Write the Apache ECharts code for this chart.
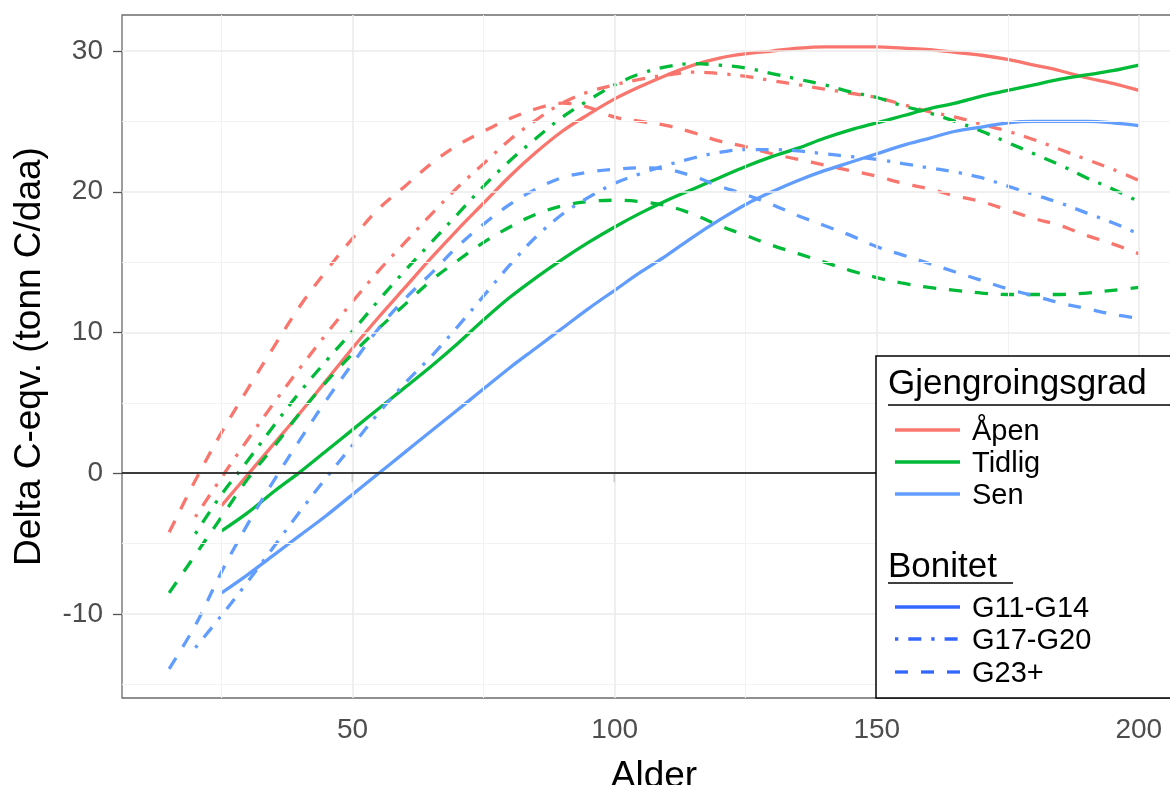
<!DOCTYPE html>
<html>
<head>
<meta charset="utf-8">
<script src="https://cdn.jsdelivr.net/npm/echarts@6/dist/echarts.min.js"></script>
<style>
  html, body { margin: 0; padding: 0; background: #fff; }
  #chart { width: 1170px; height: 785px; }
</style>
</head>
<body>
<div id="chart"></div>
<script>
// ---- data ----
const ages = [15,20,25,30,35,40,45,50,55,60,65,70,75,80,85,90,95,100,105,110,115,120,125,130,135,140,145,150,155,160,165,170,175,180,185,190,195,200];

const apenG11 = [null,null,-2.3,-0.1,2.1,4.3,6.6,8.9,11.1,13.2,15.3,17.3,19.2,21.1,22.8,24.3,25.5,26.6,27.5,28.3,29.0,29.5,29.8,30.0,30.2,30.3,30.3,30.3,30.2,30.1,29.9,29.7,29.4,29.0,28.6,28.1,27.7,27.2];
const apenG17 = [null,-3.1,-0.3,2.4,5.0,7.5,9.9,12.2,14.4,16.4,18.4,20.3,22.0,23.7,25.1,26.3,27.1,27.6,28.0,28.3,28.5,28.4,28.2,27.9,27.6,27.3,27.0,26.7,26.2,25.7,25.3,24.8,24.3,23.7,23.0,22.3,21.6,20.8];
const apenG23 = [-4.2,-0.5,2.9,6.0,9.0,11.9,14.4,16.7,18.8,20.4,22.0,23.3,24.3,25.2,25.9,26.3,26.0,25.3,25.0,24.7,24.2,23.6,23.2,22.7,22.3,21.9,21.5,21.1,20.6,20.2,19.7,19.3,18.7,18.1,17.6,16.9,16.3,15.6];

const tidligG11 = [null,null,-4.1,-2.8,-1.3,0.1,1.6,3.1,4.6,6.1,7.6,9.2,10.9,12.5,13.9,15.2,16.4,17.5,18.5,19.4,20.2,21.0,21.8,22.5,23.1,23.8,24.4,24.9,25.4,25.9,26.3,26.8,27.2,27.6,28.0,28.3,28.6,29.0];
const tidligG17 = [null,-4.3,-1.5,0.9,3.4,5.8,8.0,10.1,12.3,14.4,16.4,18.4,20.4,22.2,23.8,25.3,26.5,27.6,28.4,28.9,29.1,29.0,28.8,28.4,28.0,27.6,27.1,26.7,26.1,25.6,25.0,24.3,23.5,22.7,21.9,21.0,20.2,19.3];
const tidligG23 = [-8.5,-5.8,-3.1,-0.4,1.9,4.3,6.5,8.5,10.3,12.0,13.7,15.1,16.4,17.5,18.4,19.0,19.3,19.4,19.3,19.0,18.4,17.6,16.9,16.2,15.6,15.0,14.4,13.9,13.5,13.2,13.0,12.8,12.7,12.7,12.7,12.8,13.0,13.2];

const senG11 = [null,null,-8.5,-7.2,-5.8,-4.4,-3.0,-1.5,0.0,1.5,3.0,4.5,6.0,7.5,8.9,10.3,11.7,13.0,14.3,15.5,16.8,18.0,19.1,20.0,20.8,21.5,22.1,22.7,23.3,23.8,24.3,24.6,24.9,25.0,25.0,25.0,24.9,24.7];
const senG17 = [null,-12.4,-10.1,-7.7,-5.2,-2.7,-0.3,2.0,4.3,6.4,8.3,10.4,12.6,14.8,16.8,18.4,19.6,20.6,21.3,21.9,22.4,22.8,23.0,23.0,22.9,22.7,22.5,22.3,22.0,21.7,21.4,21.0,20.4,19.8,19.2,18.5,17.8,17.0];
const senG23 = [-13.9,-10.8,-7.0,-3.6,-0.5,2.4,5.2,7.8,10.3,12.4,14.2,16.1,17.7,19.1,20.2,21.0,21.4,21.6,21.7,21.6,21.1,20.4,19.8,19.1,18.3,17.6,16.9,16.1,15.5,14.9,14.3,13.7,13.1,12.6,12.1,11.7,11.3,11.0];

const xTicks = [50, 100, 150, 200];
const yTicks = [-10, 0, 10, 20, 30];
const xMinorGrid = [25, 75, 125, 175];
const yMinorGrid = [-15, -5, 5, 15, 25];

const groups = ['Åpen', 'Tidlig', 'Sen'];
const bonitet = ['G11-G14', 'G17-G20', 'G23+'];

// ---- styles ----
const FONT = 'Liberation Sans, Arial, Helvetica, sans-serif';
const colors = { 'Åpen': '#F8766D', 'Tidlig': '#00BA38', 'Sen': '#619CFF' };
const LW = 3.3;
const dashes = { 'G11-G14': 'solid', 'G17-G20': [3.3, 10, 13, 10], 'G23+': [13, 13] };

const table = {
  'Åpen':   { 'G11-G14': apenG11,   'G17-G20': apenG17,   'G23+': apenG23 },
  'Tidlig': { 'G11-G14': tidligG11, 'G17-G20': tidligG17, 'G23+': tidligG23 },
  'Sen':    { 'G11-G14': senG11,    'G17-G20': senG17,    'G23+': senG23 }
};

function pairs(vals) {
  const out = [];
  ages.forEach((a, i) => { if (vals[i] !== null) out.push([a, vals[i]]); });
  return out;
}

const series = [];
const gridLineStyleMajor = { color: '#ebebeb', width: 1.6, type: 'solid' };
const gridLineStyleMinor = { color: '#f2f2f2', width: 1.1, type: 'solid' };
series.push({
  type: 'line', name: '_grid', data: [], silent: true, z: 1,
  markLine: {
    silent: true, symbol: ['none', 'none'], animation: false,
    label: { show: false },
    data: [
      ...xMinorGrid.map(v => ({ xAxis: v, lineStyle: gridLineStyleMinor })),
      ...yMinorGrid.map(v => ({ yAxis: v, lineStyle: gridLineStyleMinor })),
      ...xTicks.map(v => ({ xAxis: v, lineStyle: gridLineStyleMajor })),
      ...yTicks.map(v => ({ yAxis: v, lineStyle: gridLineStyleMajor }))
    ]
  }
});
series.push({
  type: 'line', name: '_zero', data: [], silent: true, z: 2,
  markLine: {
    silent: true, symbol: ['none', 'none'], animation: false,
    label: { show: false },
    data: [{ yAxis: 0, lineStyle: { color: '#000', width: 1.5, type: 'solid' } }]
  }
});

groups.forEach(g => {
  bonitet.forEach(b => {
    series.push({
      type: 'line',
      name: g + ' ' + b,
      data: pairs(table[g][b]),
      smooth: 0.35,
      showSymbol: false,
      symbol: 'none',
      z: 3,
      lineStyle: { color: colors[g], width: LW, type: dashes[b], cap: 'butt' }
    });
  });
});

// ---- legend (drawn as graphics) ----
const LX = 876, LY = 356;
const graphic = [
  { type: 'rect', z: 100, shape: { x: LX, y: LY, width: 330, height: 342 },
    style: { fill: '#fff', stroke: '#000', lineWidth: 1.5 } },
  { type: 'text', z: 101, style: { text: 'Gjengroingsgrad', x: 888, y: 384, fontSize: 35, fontFamily: FONT, fill: '#000',
      textAlign: 'left', textVerticalAlign: 'middle', align: 'left', verticalAlign: 'middle' } },
  { type: 'line', z: 101, shape: { x1: 888, y1: 405, x2: 1170, y2: 405 }, style: { stroke: '#000', lineWidth: 1.5 } },
  { type: 'text', z: 101, style: { text: 'Bonitet ', x: 888, y: 567, fontSize: 35, fontFamily: FONT, fill: '#000',
      textAlign: 'left', textVerticalAlign: 'middle', align: 'left', verticalAlign: 'middle' } },
  { type: 'line', z: 101, shape: { x1: 888, y1: 583, x2: 1013, y2: 583 }, style: { stroke: '#000', lineWidth: 1.5 } }
];
const colorRows = [430, 462, 494];
groups.forEach((g, i) => {
  graphic.push({ type: 'line', z: 101, shape: { x1: 895, y1: colorRows[i], x2: 960, y2: colorRows[i] },
    style: { stroke: colors[g], lineWidth: LW } });
  graphic.push({ type: 'text', z: 101, style: { text: g, x: 972, y: colorRows[i] + 2, fontSize: 29, fontFamily: FONT, fill: '#000',
    textAlign: 'left', textVerticalAlign: 'middle', align: 'left', verticalAlign: 'middle' } });
});
const typeRows = [607, 639, 672];
bonitet.forEach((b, i) => {
  const d = dashes[b];
  graphic.push({ type: 'line', z: 101, shape: { x1: 895, y1: typeRows[i], x2: 960, y2: typeRows[i] },
    style: { stroke: '#3366FF', lineWidth: LW, lineDash: (d === 'solid' ? null : d), lineCap: 'butt' } });
  graphic.push({ type: 'text', z: 101, style: { text: b, x: 972, y: typeRows[i] + 2, fontSize: 29, fontFamily: FONT, fill: '#000',
    textAlign: 'left', textVerticalAlign: 'middle', align: 'left', verticalAlign: 'middle' } });
});

const chart = echarts.init(document.getElementById('chart'), null, { renderer: 'canvas' });
chart.setOption({
  animation: false,
  backgroundColor: '#fff',
  textStyle: { fontFamily: FONT },
  grid: { left: 122, top: 15, width: 1064, height: 683, show: true, borderColor: '#6b6b6b', borderWidth: 1.3,
          backgroundColor: '#fff', containLabel: false, outerBoundsMode: 'none' },
  xAxis: {
    type: 'value', min: 6, max: 209,
    name: 'Alder', nameLocation: 'middle', nameGap: 60,
    nameTextStyle: { fontSize: 37, color: '#000', fontFamily: FONT },
    axisLine: { show: false },
    axisTick: { show: true, length: 9, customValues: xTicks, lineStyle: { color: '#555', width: 1.3 } },
    axisLabel: { customValues: xTicks, fontSize: 28, color: '#4d4d4d', margin: 18, fontFamily: FONT },
    splitLine: { show: false }
  },
  yAxis: {
    type: 'value', min: -15.97, max: 32.56,
    name: 'Delta C-eqv. (tonn C/daa)', nameLocation: 'middle', nameGap: 74, nameRotate: 90,
    nameTextStyle: { fontSize: 37, color: '#000', fontFamily: FONT },
    axisLine: { show: false },
    axisTick: { show: true, length: 9, customValues: yTicks, lineStyle: { color: '#555', width: 1.3 } },
    axisLabel: { customValues: yTicks, fontSize: 28, color: '#4d4d4d', margin: 19, fontFamily: FONT },
    splitLine: { show: false }
  },
  series: series,
  graphic: graphic
});
</script>
</body>
</html>
